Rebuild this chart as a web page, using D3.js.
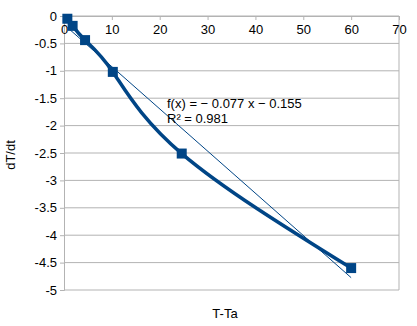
<!DOCTYPE html>
<html>
<head>
<meta charset="utf-8">
<script src="https://cdn.jsdelivr.net/npm/d3@7"></script>
<style>
  body { margin: 0; background: #fff; }
  text { font-family: "Liberation Sans", Arial, sans-serif; }
</style>
</head>
<body>
<div id="chart"></div>
<script>
// data
var xs = [0.7, 1.8, 4.4, 10.2, 24.6, 60];
var ys = [-0.05, -0.18, -0.44, -1.02, -2.51, -4.6];
var xTicks = [0, 10, 20, 30, 40, 50, 60, 70];
var yTicks = [0, -0.5, -1, -1.5, -2, -2.5, -3, -3.5, -4, -4.5, -5];
var slope = -0.077, intercept = -0.155;
var eqLines = ["f(x) = \u2212 0.077 x \u2212 0.155", "R\u00b2 = 0.981"];

var W = 417, H = 326;
var margin = {top: 16, right: 18, bottom: 36, left: 64},
    width = W - margin.left - margin.right,
    height = H - margin.top - margin.bottom;
var blue = "#004586", grid = "#b3b3b3";

var svg = d3.select("#chart").append("svg")
    .attr("width", W).attr("height", H)
  .append("g")
    .attr("transform", "translate(" + margin.left + "," + margin.top + ")");

var x = d3.scaleLinear().domain([0, 70]).range([0, width]);
var y = d3.scaleLinear().domain([-5, 0]).range([height, 0]);

// horizontal gridlines
svg.selectAll(".grid").data(yTicks).enter().append("line")
  .attr("x1", 0).attr("x2", width)
  .attr("y1", function(d) { return y(d); })
  .attr("y2", function(d) { return y(d); })
  .attr("stroke", grid).attr("stroke-width", 1);

// right border
svg.append("line")
  .attr("x1", width).attr("x2", width).attr("y1", 0).attr("y2", height)
  .attr("stroke", grid);

// y axis
var yAxis = svg.append("g")
  .call(d3.axisLeft(y).tickValues(yTicks).tickSize(4).tickPadding(3)
    .tickFormat(function(d) { return String(d); }));
yAxis.selectAll("line, path").attr("stroke", grid);
yAxis.selectAll("text").attr("font-size", 13).attr("fill", "#000")
  .style("font-family", "Liberation Sans, Arial, sans-serif");

// x axis sits at y = 0 (top)
var xAxis = svg.append("g")
  .attr("transform", "translate(0," + y(0) + ")")
  .call(d3.axisBottom(x).tickValues(xTicks).tickSize(4).tickPadding(5).tickSizeOuter(0));
xAxis.selectAll("line, path").attr("stroke", grid);
xAxis.selectAll("text").attr("font-size", 13).attr("fill", "#000")
  .style("font-family", "Liberation Sans, Arial, sans-serif");

// axis titles
svg.append("text")
  .attr("transform", "translate(" + (12 - margin.left) + "," + (155 - margin.top) + ") rotate(-90)")
  .attr("text-anchor", "middle").attr("dominant-baseline", "middle")
  .attr("font-size", 13).text("dT/dt");
svg.append("text")
  .attr("x", 225 - margin.left).attr("y", 318 - margin.top)
  .attr("text-anchor", "middle").attr("font-size", 13).text("T-Ta");

var pts = xs.map(function(d, i) { return [d, ys[i]]; });

// trend line
var xMin = d3.min(xs), xMax = d3.max(xs);
svg.append("line")
  .attr("x1", x(xMin)).attr("y1", y(slope * xMin + intercept))
  .attr("x2", x(xMax)).attr("y2", y(slope * xMax + intercept))
  .attr("stroke", blue).attr("stroke-width", 1);

// smoothed series line
svg.append("path")
  .datum(pts)
  .attr("fill", "none").attr("stroke", blue).attr("stroke-width", 3.5)
  .attr("d", d3.line()
    .x(function(d) { return x(d[0]); })
    .y(function(d) { return y(d[1]); })
    .curve(d3.curveNatural));

// markers
svg.selectAll(".pt").data(pts).enter().append("rect")
  .attr("x", function(d) { return x(d[0]) - 5; })
  .attr("y", function(d) { return y(d[1]) - 5; })
  .attr("width", 10).attr("height", 10)
  .attr("fill", blue);

// equation
svg.append("g").selectAll("text").data(eqLines).enter().append("text")
  .attr("x", 167 - margin.left)
  .attr("y", function(d, i) { return 108 - margin.top + i * 15; })
  .attr("font-size", 13).text(function(d) { return d; });
</script>
</body>
</html>
